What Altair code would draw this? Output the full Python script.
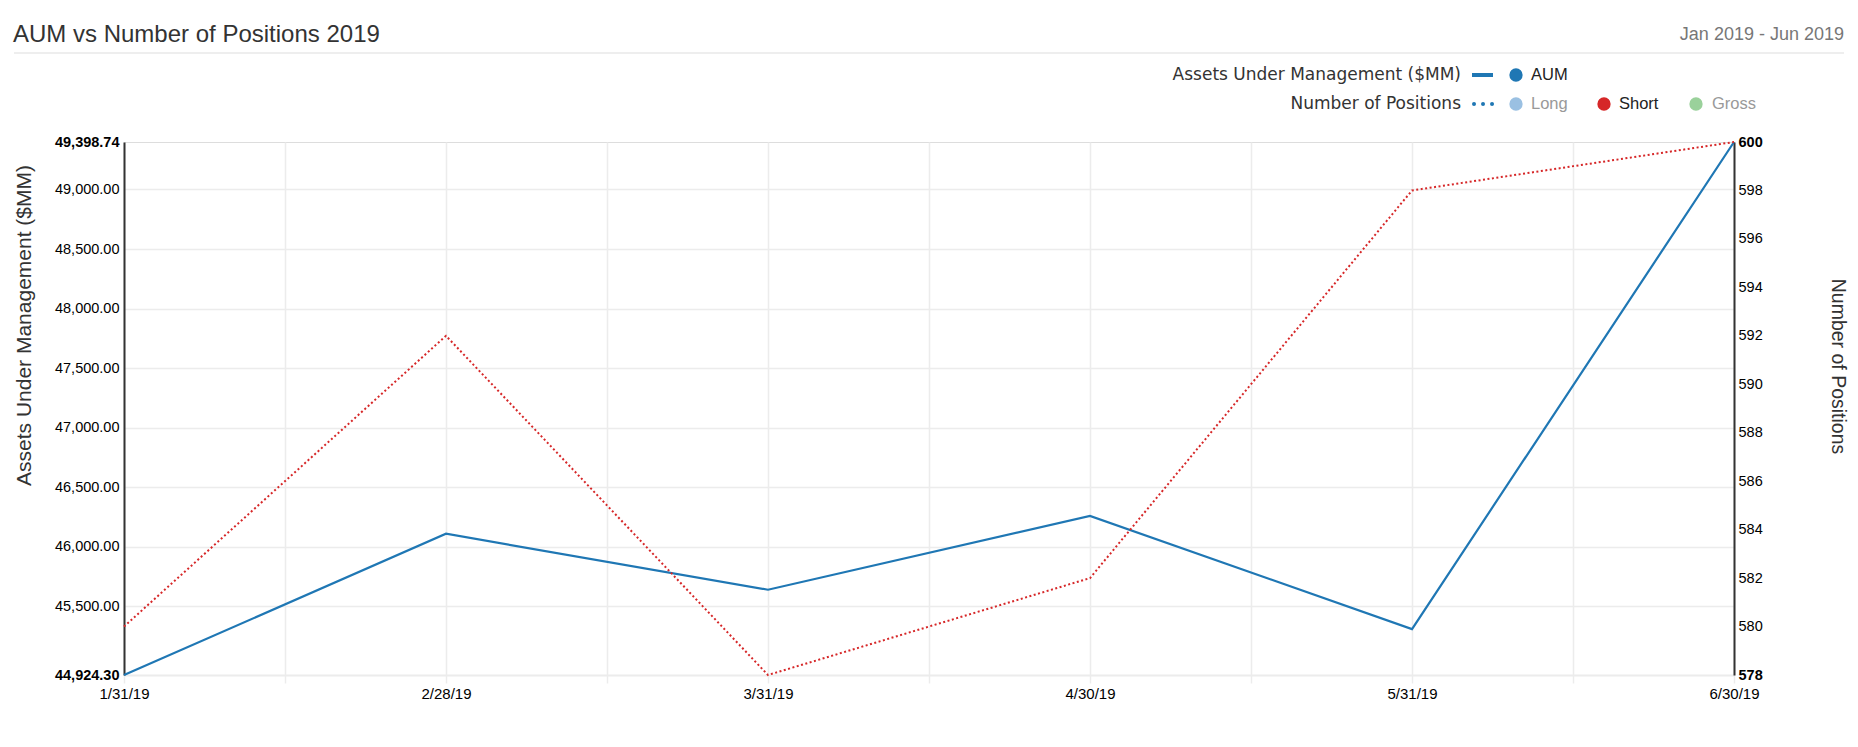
import altair as alt
import pandas as pd

# ---- data ----
dates = ["1/31/19", "2/28/19", "3/31/19", "4/30/19", "5/31/19", "6/30/19"]
aum = [44924.30, 46110.00, 45640.00, 46260.00, 45310.00, 49398.74]
short_positions = [580, 592, 578, 582, 598, 600]

aum_domain = [44924.30, 49398.74]
aum_ticks = [44924.30, 45500, 46000, 46500, 47000, 47500, 48000, 48500, 49000, 49398.74]
pos_domain = [578, 600]
pos_ticks = [578, 580, 582, 584, 586, 588, 590, 592, 594, 596, 598, 600]

title_text = "AUM vs Number of Positions 2019"
subtitle_text = "Jan 2019 - Jun 2019"
left_title = "Assets Under Management ($MM)"
right_title = "Number of Positions"

legend_row1_label = "Assets Under Management ($MM)"
legend_row2_label = "Number of Positions"
legend_aum = ["AUM"]
legend_pos = ["Long", "Short", "Gross"]

BLUE = "#1f77b4"
RED = "#d62728"
LONG_C = "#9ac0e2"
GROSS_C = "#9ad19b"
FONT = "Liberation Sans"
WIDE_FONT = "DejaVu Sans"

df = pd.DataFrame({
    "idx": list(range(len(dates))),
    "date": dates,
    "aum": aum,
    "short": short_positions,
})

W, H = 1610, 533
x_vals = [i / 2 for i in range(2 * (len(dates) - 1) + 1)]
label_arr = "[" + ",".join("'" + d + "'" for d in dates) + "]"
label_expr = f"datum.value % 1 == 0 ? {label_arr}[datum.value] : ''"

x_enc = alt.X(
    "idx:Q",
    scale=alt.Scale(domain=[0, len(dates) - 1], nice=False, zero=False),
    axis=alt.Axis(
        values=x_vals, labelExpr=label_expr, title=None,
        grid=True, gridColor="#ececec", gridWidth=1.5,
        domainColor="#ececec", domainWidth=2,
        tickColor="#ececec", tickSize=8, tickWidth=1.5,
        labelFontSize=15, labelColor="#000", labelPadding=3,
        labelFlush=False, labelOverlap=False, labelFont=FONT,
    ),
)

extreme_aum = "datum.value < 44925 || datum.value > 49398"
aum_line = alt.Chart(df).mark_line(color=BLUE, strokeWidth=2.2).encode(
    x=x_enc,
    y=alt.Y(
        "aum:Q",
        scale=alt.Scale(domain=aum_domain, nice=False, zero=False),
        axis=alt.Axis(
            orient="left", values=aum_ticks, format=",.2f",
            title=left_title, titleFont=FONT, titleFontSize=21,
            titleFontWeight="normal", titleColor="#333",
            titleAngle=270, titleX=-100, titleY=183,
            titleAlign="center", titleBaseline="middle",
            grid=True, gridColor="#ececec", gridWidth=1.5,
            gridOpacity=alt.condition(extreme_aum, alt.value(0), alt.value(1)),
            domainColor="#333", domainWidth=2, ticks=False,
            labelPadding=5, labelFontSize=14.5, labelColor="#000", labelFont=FONT,
            labelFontWeight=alt.condition(extreme_aum, alt.value("bold"), alt.value("normal")),
        ),
    ),
)

extreme_pos = "datum.value == 578 || datum.value == 600"
short_line = alt.Chart(df).mark_line(color=RED, strokeWidth=2, strokeDash=[2, 2.5]).encode(
    x=x_enc,
    y=alt.Y(
        "short:Q",
        scale=alt.Scale(domain=pos_domain, nice=False, zero=False),
        axis=alt.Axis(
            orient="right", values=pos_ticks, format="d",
            title=right_title, titleFont=FONT, titleFontSize=19.5,
            titleFontWeight="normal", titleColor="#333",
            titleAngle=90, titleX=103, titleY=224,
            titleAlign="center", titleBaseline="middle",
            grid=False, domainColor="#333", domainWidth=2, ticks=False,
            labelPadding=4, labelFontSize=14.5, labelColor="#000", labelFont=FONT,
            labelFontWeight=alt.condition(extreme_pos, alt.value("bold"), alt.value("normal")),
        ),
    ),
)

one = alt.Data(values=[{}])
OX, OY = 124, 142  # page coordinates of plot origin


def txt(text, px, py, size, color, align="left", baseline="middle", weight="normal", font=FONT):
    return alt.Chart(one).mark_text(
        text=text, font=font, fontSize=size, color=color, align=align,
        baseline=baseline, fontWeight=weight,
    ).encode(x=alt.value(px - OX), y=alt.value(py - OY))


def dot(px, py, color, size=177):
    return alt.Chart(one).mark_point(
        filled=True, shape="circle", size=size, color=color, opacity=1
    ).encode(x=alt.value(px - OX), y=alt.value(py - OY))


layers = [aum_line, short_line]

# header
layers.append(txt(title_text, 13, 42, 24, "#333", baseline="alphabetic"))
layers.append(txt(subtitle_text, 1844, 40, 18, "#777", align="right", baseline="alphabetic"))
layers.append(
    alt.Chart(one).mark_rule(color="#eeeeee", strokeWidth=2).encode(
        x=alt.value(14 - OX), x2=alt.value(1844 - OX), y=alt.value(53 - OY)
    )
)

# legend row 1
R1, R2 = 75, 104
layers.append(txt(legend_row1_label, 1461, R1, 17, "#333", align="right", font=WIDE_FONT))
layers.append(
    alt.Chart(one).mark_rule(color=BLUE, strokeWidth=4).encode(
        x=alt.value(1472 - OX), x2=alt.value(1493 - OX), y=alt.value(R1 - OY)
    )
)
layers.append(dot(1516, R1, BLUE))
layers.append(txt(legend_aum[0], 1531, R1, 16.5, "#222"))

# legend row 2
layers.append(txt(legend_row2_label, 1461, R2, 17, "#333", align="right", font=WIDE_FONT))
layers.append(
    alt.Chart(one).mark_rule(color=BLUE, strokeWidth=4, strokeDash=[0.01, 9], strokeCap="round").encode(
        x=alt.value(1474 - OX), x2=alt.value(1494 - OX), y=alt.value(R2 - OY)
    )
)
layers.append(dot(1516, R2, LONG_C))
layers.append(txt(legend_pos[0], 1531, R2, 16.5, "#999"))
layers.append(dot(1604, R2, RED))
layers.append(txt(legend_pos[1], 1619, R2, 16.5, "#222"))
layers.append(dot(1696, R2, GROSS_C))
layers.append(txt(legend_pos[2], 1712, R2, 16.5, "#999"))

chart = (
    alt.layer(*layers)
    .resolve_scale(y="independent")
    .properties(
        width=W, height=H,
        autosize=alt.AutoSizeParams(type="none"),
        padding={"left": 116, "top": 134, "right": 116, "bottom": 64},
    )
    .configure_view(stroke=None)
    .configure(font=FONT)
)

chart.save("out.html", embed_options={"renderer": "svg", "actions": False})
